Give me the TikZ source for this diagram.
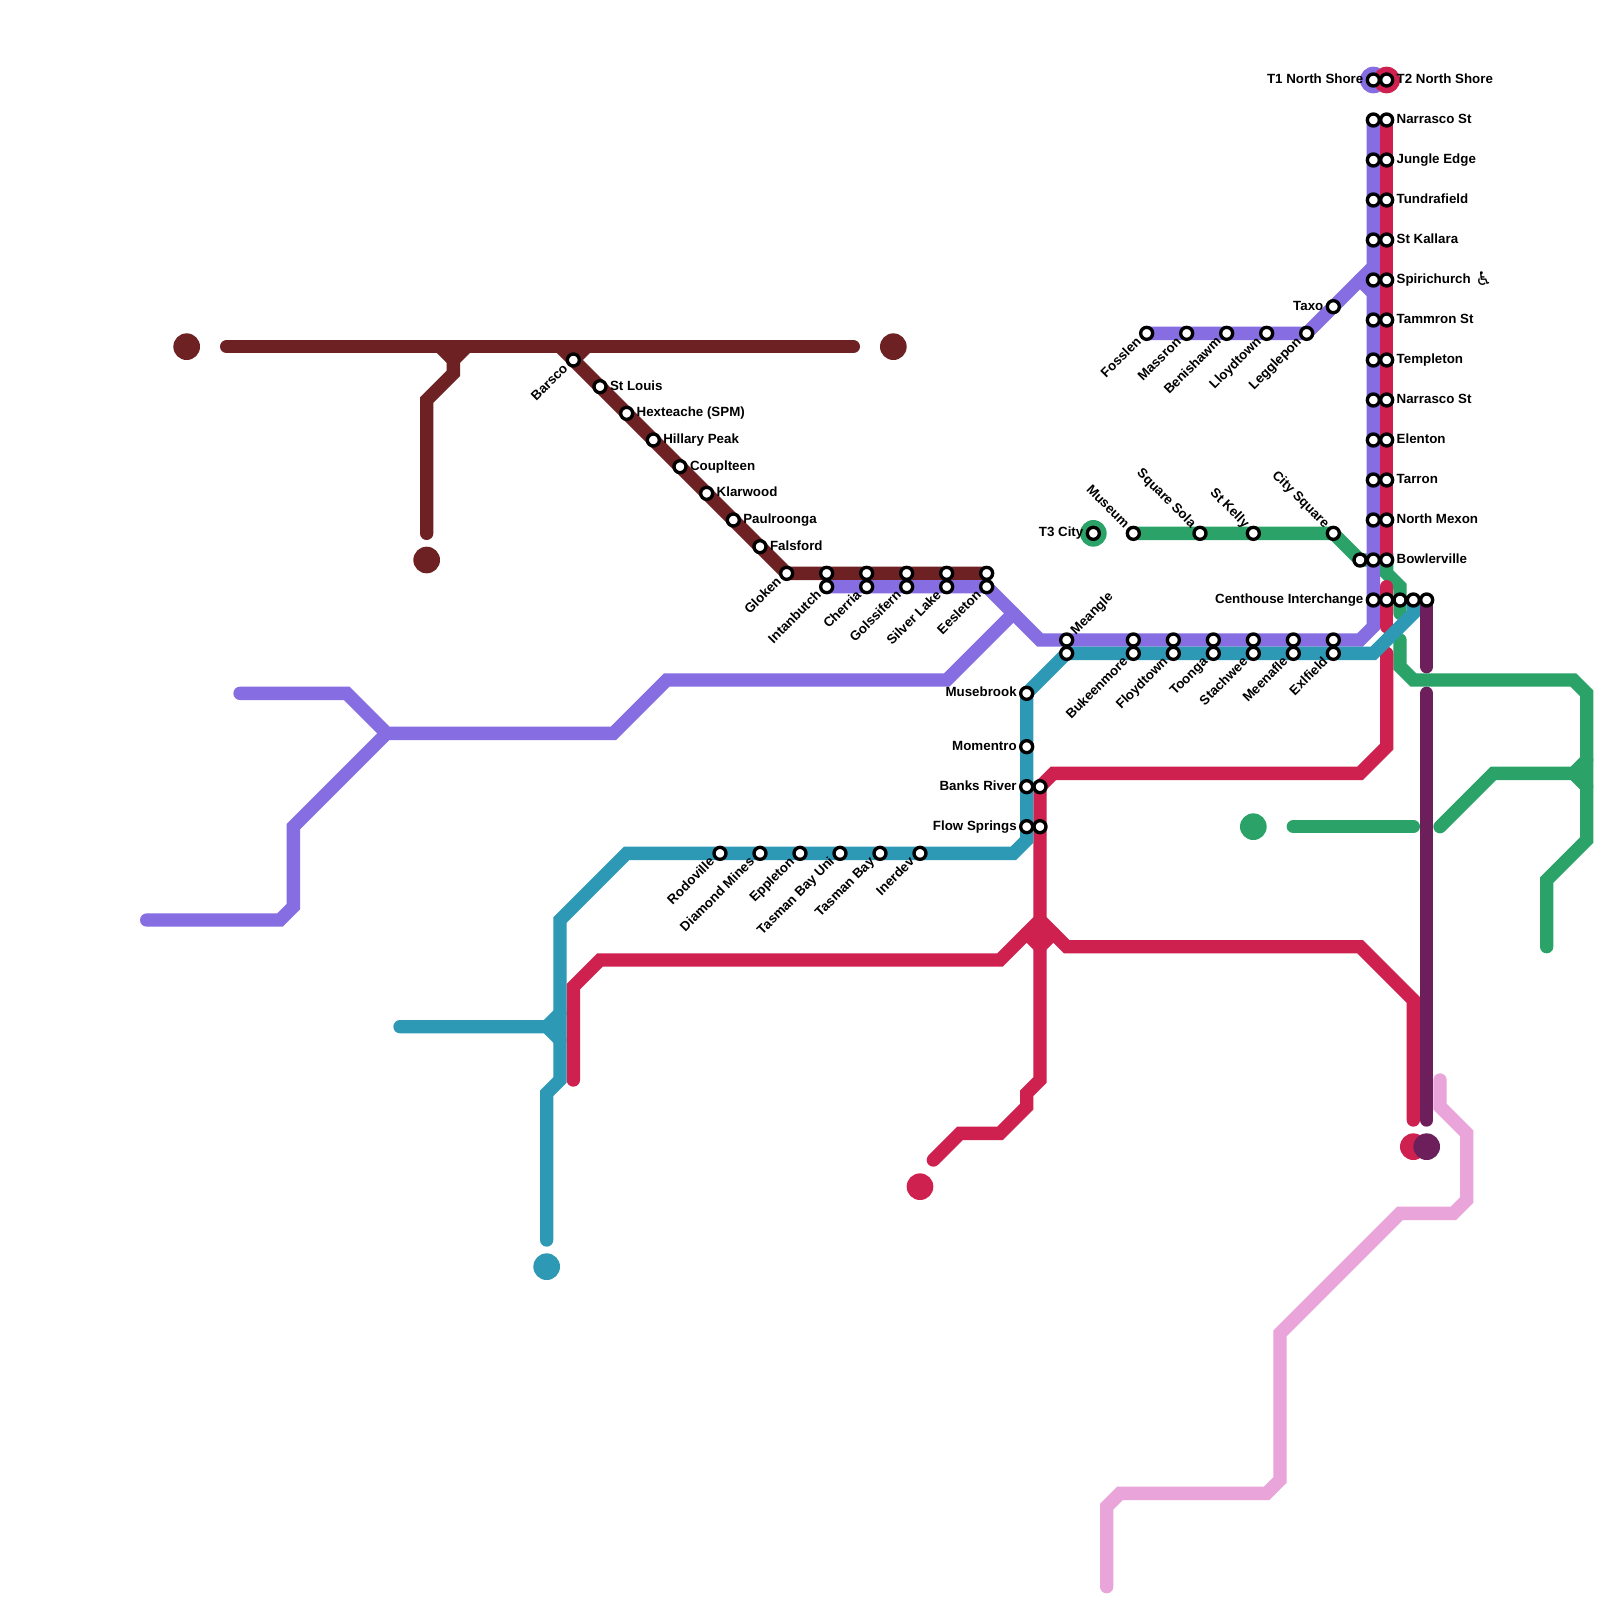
\documentclass[tikz,border=0pt]{standalone}
\usepackage{fontspec}
\setmainfont{Liberation Sans}
\newfontfamily\iconfont{DejaVu Sans}
\definecolor{cbrown}{HTML}{6E2123}
\definecolor{cpurple}{HTML}{866DE2}
\definecolor{cred}{HTML}{CF214F}
\definecolor{cteal}{HTML}{2E99B5}
\definecolor{cgreen}{HTML}{2AA268}
\definecolor{cplum}{HTML}{6D1F5C}
\definecolor{cpink}{HTML}{E9A4D9}
\tikzset{
  route/.style={line width=0.4cm,line cap=round,line join=miter,miter limit=10},
  terminus/.style={circle,fill=#1,minimum size=0.8cm,inner sep=0pt,outer sep=0pt},
  stn/.style={circle,draw=black,fill=white,line width=0.1cm,minimum size=0.36cm,inner sep=0pt,outer sep=0pt},
  lab/.style={inner sep=0pt,outer sep=0pt,font=\fontsize{11.38}{13}\selectfont\bfseries,text=black},
  lr/.style={lab,anchor=mid west,yshift=-0.01cm},
  ll/.style={lab,anchor=mid east,yshift=-0.01cm},
  ldl/.style={lab,rotate=45,anchor=mid east},
  lul/.style={lab,rotate=-45,anchor=mid east},
  lur/.style={lab,rotate=45,anchor=mid west}
}
\begin{document}
\begin{tikzpicture}[x=0.4cm,y=-0.4cm]
\useasboundingbox (0,0) rectangle (120,120);
\fill[white] (0,0) rectangle (120,120);
% termini
\node[terminus=cbrown] (tb1) at (14,26) {};
\node[terminus=cbrown] (tb2) at (67,26) {};
\node[terminus=cbrown] (tb3) at (32,42) {};
\node[terminus=cteal] (tt1) at (41,95) {};
\node[terminus=cred] (tr1) at (69,89) {};
\node[terminus=cgreen] (tg1) at (94,62) {};
\node[terminus=cgreen] (tg2) at (82,40) {};
\node[terminus=cpurple] (tp1) at (103,6) {};
\node[terminus=cred] (tr2) at (104,6) {};
\node[terminus=cred] (tr3) at (106,86) {};
\node[terminus=cplum] (tq1) at (107,86) {};
% pink
\draw[route,cpink] (108,81)--(108,83)--(110,85)--(110,90)--(109,91)--(105,91)--(96,100)--(96,111)--(95,112)--(84,112)--(83,113)--(83,119);
% brown
\draw[route,cbrown] (17,26)--(64,26);
\draw[route,cbrown] (33,26)--(34,27)--(35,26);
\draw[route,cbrown] (34,27)--(34,28)--(32,30)--(32,40);
\draw[route,cbrown] (42,26)--(59,43)--(74,43);
\draw[route,cbrown] (43,27)--(44,26);
% green
\draw[route,cgreen] (85,40)--(100,40)--(102,42)--(104,42)--(104,43)--(105,44)--(105,46);
\draw[route,cgreen] (105,48)--(105,50)--(106,51)--(118,51)--(119,52)--(119,63)--(116,66)--(116,71);
\draw[route,cgreen] (108,62)--(112,58)--(118,58)--(119,57);
\draw[route,cgreen] (118,58)--(119,59);
\draw[route,cgreen] (97,62)--(106,62);
% purple
\draw[route,cpurple] (103,9)--(103,47)--(102,48)--(78,48)--(74,44)--(62,44);
\draw[route,cpurple] (76,46)--(71,51)--(50,51)--(46,55)--(29,55)--(26,52)--(18,52);
\draw[route,cpurple] (29,55)--(22,62)--(22,68)--(21,69)--(11,69);
\draw[route,cpurple] (103,20)--(98,25)--(86,25);
\draw[route,cpurple] (102,21)--(103,22);
% red
\draw[route,cred] (104,9)--(104,42);
\draw[route,cred] (104,44)--(104,47);
\draw[route,cred] (104,49)--(104,56)--(102,58)--(79,58)--(78,59)--(78,81)--(77,82)--(77,83)--(75,85)--(72,85)--(70,87);
\draw[route,cred] (43,81)--(43,74)--(45,72)--(75,72)--(78,69)--(80,71)--(102,71)--(106,75)--(106,84);
\draw[route,cred] (77,70)--(78,71)--(79,70);
% teal
\draw[route,cteal] (106,45)--(106,46)--(103,49)--(80,49)--(77,52)--(77,63)--(76,64)--(47,64)--(42,69)--(42,81)--(41,82)--(41,93);
\draw[route,cteal] (30,77)--(41,77)--(42,76);
\draw[route,cteal] (41,77)--(42,78);
% plum
\draw[route,cplum] (107,45)--(107,50);
\draw[route,cplum] (107,52)--(107,84);
% stations without own label
\foreach \x/\y in {104/45,105/45,106/45,107/45,102/42,62/43,65/43,68/43,71/43,74/43,80/49,85/48,88/48,91/48,94/48,97/48,100/48,78/59,78/62,104/6,103/9,103/12,103/15,103/18,103/21,103/24,103/27,103/30,103/33,103/36,103/39,103/42}
  \node[stn] (s-\x-\y) at (\x,\y) {};
% right labels
\foreach \x/\y/\t in {104/9/Narrasco St,104/12/Jungle Edge,104/15/Tundrafield,104/18/St Kallara,104/24/Tammron St,104/27/Templeton,104/30/Narrasco St,104/33/Elenton,104/36/Tarron,104/39/North Mexon,104/42/Bowlerville,45/29/St Louis,47/31/Hexteache (SPM),49/33/Hillary Peak,51/35/Couplteen,53/37/Klarwood,55/39/Paulroonga,57/41/Falsford}
  {\node[stn] (s-\x-\y) at (\x,\y) {};
   \node[lr] (l-\x-\y) at (\x+0.75,\y) {\t};}
\node[lr] (lT2) at (104.75,6) {T2 North Shore};
\node[stn] (s-104-21) at (104,21) {};
\node[lr] (l-104-21) at (104.75,21) {Spirichurch\hspace{0.135cm}\raisebox{-0.06cm}{\fontsize{16}{16}\selectfont\iconfont\mdseries\char"267F}};
% left labels
\foreach \x/\y/\t in {103/6/T1 North Shore,103/45/Centhouse Interchange,100/23/Taxo,82/40/T3 City,77/52/Musebrook,77/56/Momentro,77/59/Banks River,77/62/Flow Springs}
  {\node[stn] (s-\x-\y) at (\x,\y) {};
   \node[ll] (l-\x-\y) at (\x-0.75,\y) {\t};}
% lower-left rotated
\foreach \x/\y/\t in {43/27/Barsco,59/43/Gloken,62/44/Intanbutch,65/44/Cherria,68/44/Golssifern,71/44/Silver Lake,74/44/Eesleton,86/25/Fosslen,89/25/Massron,92/25/Benishawm,95/25/Lloydtown,98/25/Legglepon,85/49/Bukeenmore,88/49/Floydtown,91/49/Toonga,94/49/Stachwee,97/49/Meenafle,100/49/Exlfield,54/64/Rodoville,57/64/Diamond Mines,60/64/Eppleton,63/64/Tasman Bay Uni,66/64/Tasman Bay,69/64/Inerdev}
  {\node[stn] (s-\x-\y) at (\x,\y) {};
   \node[ldl] (l-\x-\y) at (\x-0.53,\y+0.53) {\t};}
% upper-left rotated
\foreach \x/\y/\t in {85/40/Museum,90/40/Square Sola,94/40/St Kelly,100/40/City Square}
  {\node[stn] (s-\x-\y) at (\x,\y) {};
   \node[lul] (l-\x-\y) at (\x-0.53,\y-0.53) {\t};}
% upper-right rotated
\node[stn] (s-80-48) at (80,48) {};
\node[lur] (l-80-48) at (80.53,47.47) {Meangle};
\end{tikzpicture}
\end{document}
